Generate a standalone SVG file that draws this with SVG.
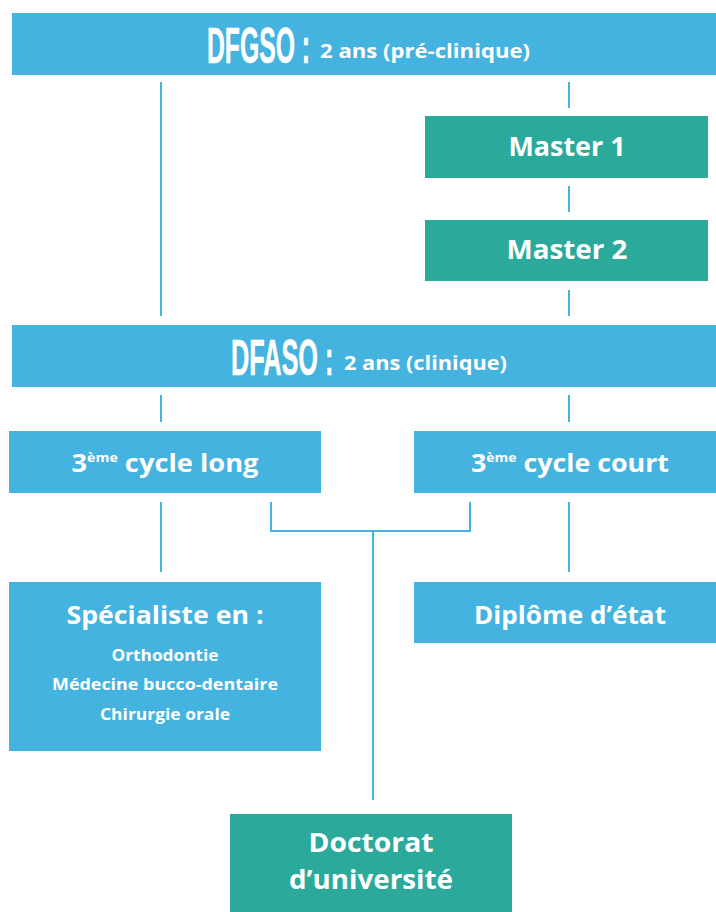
<svg xmlns="http://www.w3.org/2000/svg" width="716" height="912" viewBox="0 0 716 912">
<style>
.b{fill:#44B3DF}
.g{fill:#2BAA9C}
.t{font-family:"Open Sans","Liberation Sans",sans-serif;font-weight:700;fill:#fff;text-anchor:middle}
.h{font-family:"Liberation Sans",sans-serif;font-weight:700;fill:#fff;stroke:#fff;stroke-width:0.6}
.s{font-family:"Open Sans","Liberation Sans",sans-serif;font-weight:700;fill:#fff}
.c{stroke:#44B3DF;stroke-width:2;fill:none}
</style>
<rect width="716" height="912" fill="#fff"/>
<g id="connectors" class="c">
<line x1="161" y1="82" x2="161" y2="316"/>
<line x1="569" y1="82" x2="569" y2="108"/>
<line x1="569" y1="186" x2="569" y2="212"/>
<line x1="569" y1="290" x2="569" y2="316"/>
<line x1="161" y1="395" x2="161" y2="422"/>
<line x1="569" y1="395" x2="569" y2="422"/>
<line x1="161" y1="502" x2="161" y2="572"/>
<line x1="569" y1="502" x2="569" y2="572"/>
<polyline points="271,502 271,531 470,531 470,502"/>
<line x1="373" y1="531" x2="373" y2="800"/>
</g>
<g id="dfgso">
<rect class="b" x="12" y="13" width="714" height="62"/>
<text class="h" transform="translate(207,63) scale(0.495,1)" x="0" y="0" font-size="50">DFGSO :</text>
<text class="s" x="320" y="58" font-size="19" textLength="210" lengthAdjust="spacingAndGlyphs">2 ans (pré-clinique)</text>
</g>
<g id="master1">
<rect class="g" x="425" y="116" width="283" height="62"/>
<text class="t" x="567" y="156" font-size="26" textLength="117" lengthAdjust="spacingAndGlyphs">Master 1</text>
</g>
<g id="master2">
<rect class="g" x="425" y="220" width="283" height="61"/>
<text class="t" x="567" y="259" font-size="26" textLength="121" lengthAdjust="spacingAndGlyphs">Master 2</text>
</g>
<g id="dfaso">
<rect class="b" x="12" y="325" width="714" height="62"/>
<text class="h" transform="translate(231,375) scale(0.505,1)" x="0" y="0" font-size="50">DFASO :</text>
<text class="s" x="344" y="370" font-size="19" textLength="163" lengthAdjust="spacingAndGlyphs">2 ans (clinique)</text>
</g>
<g id="cycle-long">
<rect class="b" x="9" y="431" width="312" height="62"/>
<text class="t" x="165" y="472" font-size="25" textLength="187" lengthAdjust="spacingAndGlyphs">3<tspan font-size="13" dy="-10">ème</tspan><tspan dy="10"> cycle long</tspan></text>
</g>
<g id="cycle-court">
<rect class="b" x="414" y="431" width="312" height="62"/>
<text class="t" x="570" y="472" font-size="25" textLength="198" lengthAdjust="spacingAndGlyphs">3<tspan font-size="13" dy="-10">ème</tspan><tspan dy="10"> cycle court</tspan></text>
</g>
<g id="specialiste">
<rect class="b" x="9" y="582" width="312" height="169"/>
<text class="t" x="165" y="624" font-size="25" textLength="197" lengthAdjust="spacingAndGlyphs">Spécialiste en :</text>
<text class="t" x="165" y="661" font-size="16" textLength="107" lengthAdjust="spacingAndGlyphs">Orthodontie</text>
<text class="t" x="165" y="690" font-size="16" textLength="226" lengthAdjust="spacingAndGlyphs">Médecine bucco-dentaire</text>
<text class="t" x="165" y="720" font-size="16" textLength="130" lengthAdjust="spacingAndGlyphs">Chirurgie orale</text>
</g>
<g id="diplome">
<rect class="b" x="414" y="582" width="312" height="61"/>
<text class="t" x="570" y="624" font-size="25" textLength="192" lengthAdjust="spacingAndGlyphs">Diplôme d’état</text>
</g>
<g id="doctorat">
<rect class="g" x="230" y="814" width="282" height="98"/>
<text class="t" x="371" y="852" font-size="27" textLength="125" lengthAdjust="spacingAndGlyphs">Doctorat</text>
<text class="t" x="371" y="889" font-size="27" textLength="164" lengthAdjust="spacingAndGlyphs">d’université</text>
</g>
</svg>
